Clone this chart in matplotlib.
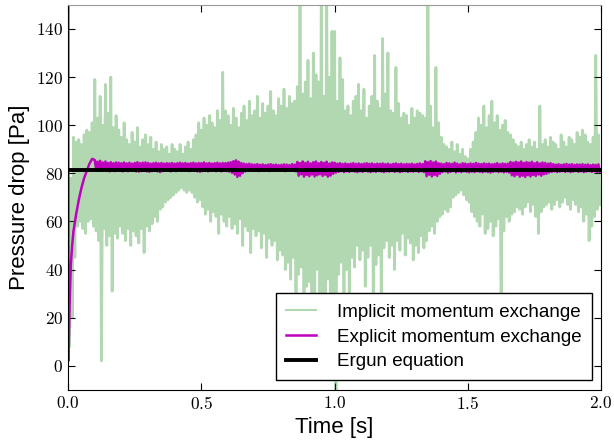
import numpy as np
import matplotlib
matplotlib.use("Agg")
import matplotlib.pyplot as plt
from matplotlib.ticker import FuncFormatter

plt.rcParams['font.family'] = ['Liberation Sans', 'DejaVu Sans']
plt.rcParams['mathtext.fontset'] = 'cm'

# implicit momentum exchange: peak (hi) and dip (lo) per 0.01 s
implicit_hi = [74, 78, 95, 93, 94, 92, 96, 98, 97, 101,
               119, 103, 112, 100, 117, 105, 120, 99, 104, 98,
               95, 101, 94, 92, 97, 93, 99, 91, 94, 96,
               92, 95, 90, 93, 89, 92, 90, 91, 88, 92,
               90, 89, 92, 88, 91, 93, 90, 94, 96, 101,
               98, 103, 100, 104, 101, 99, 106, 102, 122, 106,
               104, 100, 107, 103, 99, 105, 108, 102, 110, 104,
               106, 112, 103, 109, 105, 108, 114, 106, 104, 111,
               108, 115, 107, 112, 109, 110, 116, 160, 113, 118,
               127, 111, 130, 121, 118, 160, 112, 160, 120, 139,
               139, 110, 128, 119, 106, 108, 104, 110, 112, 117,
               106, 115, 103, 108, 112, 129, 110, 107, 136, 113,
               130, 106, 105, 124, 109, 103, 105, 104, 100, 107,
               103, 106, 105, 104, 103, 160, 108, 99, 124, 101,
               95, 92, 91, 90, 93, 89, 92, 88, 90, 87,
               86, 90, 93, 97, 103, 100, 108, 99, 104, 110,
               101, 104, 98, 100, 102, 97, 96, 94, 92, 91,
               93, 90, 92, 94, 91, 93, 90, 108, 92, 94,
               91, 95, 93, 92, 90, 96, 93, 91, 95, 94,
               92, 97, 95, 98, 96, 93, 92, 95, 129, 96]
implicit_lo = [8, 20, 45, 58, 60, 57, 55, 60, 61, 58,
               56, 52, 2, 57, 50, 54, 31, 55, 53, 58,
               55, 52, 57, 50, 56, 54, 51, 57, 47, 58,
               56, 59, 62, 60, 65, 66, 68, 69, 70, 71,
               72, 73, 74, 73, 72, 73, 72, 70, 68, 69,
               66, 63, 65, 60, 64, 62, 55, 63, 60, 58,
               62, 57, 59, 55, 61, 50, 58, 56, 47, 57,
               54, 56, 49, 55, 45, 53, 50, 52, 44, 48,
               46, 40, 43, 36, 45, 30, 38, 41, 18, 33,
               35, 12, 27, 40, 9, 28, 15, 36, 20, 30,
               -12, 38, 43, 30, 40, 27, 45, 41, 50, 44,
               48, 33, 45, 50, 28, 42, 46, 30, 49, 52,
               45, 50, 40, 52, 48, 55, 46, 53, 51, 44,
               50, 47, 54, 49, 52, 56, 58, 55, 60, 62,
               63, 65, 64, 66, 70, 71, 72, 73, 71, 69,
               68, 64, 62, 60, 58, 63, 55, 57, 60, 54,
               58, 61, 20, 56, 62, 60, 63, 64, 66, 65,
               63, 66, 68, 64, 67, 62, 55, 64, 66, 67,
               68, 65, 67, 69, 66, 68, 70, 67, 65, 69,
               67, 64, 66, 60, 63, 52, 58, 62, 65, 67]

# explicit momentum exchange: start-up, then hi/lo per 0.01 s from t = 0.10
explicit_rise_t = [0.0, 0.001, 0.003, 0.006, 0.01, 0.015, 0.02, 0.03, 0.04,
                   0.05, 0.06, 0.07, 0.08, 0.09]
explicit_rise_p = [300, 2, 12, 28, 42, 50, 56, 63, 69, 74, 78, 81, 84, 86]
explicit_hi = [85.5, 84.8, 85.2, 84.5, 84.9, 84.3, 84.6, 84.2, 84.5, 84.4,
               84.2, 84.5, 84.1, 84.4, 84.0, 84.3, 84.6, 84.2, 84.4, 84.5,
               84.3, 84.0, 84.2, 84.4, 84.1, 84.3, 84.0, 84.2, 84.1, 84.3,
               84.0, 84.2, 84.4, 84.1, 84.3, 84.0, 84.2, 84.4, 84.1, 84.3,
               84.2, 84.5, 84.1, 84.3, 84.0, 84.2, 84.4, 84.1, 84.3, 84.2,
               84.4, 84.6, 85.0, 85.4, 84.8, 84.3, 84.0, 83.8, 84.0, 83.7,
               83.6, 83.8, 83.5, 83.7, 83.4, 83.6, 83.8, 83.5, 83.6, 83.4,
               83.5, 83.7, 83.6, 83.4, 83.8, 83.6, 84.7, 84.2, 84.9, 84.3,
               84.8, 84.1, 84.6, 84.9, 84.2, 84.7, 84.3, 84.8, 84.0, 84.5,
               84.4, 84.0, 84.2, 83.9, 84.1, 83.8, 84.0, 84.2, 83.9, 84.1,
               83.8, 84.0, 84.2, 83.9, 84.1, 83.8, 84.0, 83.9, 84.1, 83.8,
               84.0, 83.7, 83.9, 84.1, 83.8, 84.0, 83.7, 83.9, 83.8, 84.0,
               83.7, 83.9, 84.1, 83.8, 85.0, 84.6, 85.1, 84.5, 84.9, 84.2,
               84.0, 83.8, 84.3, 84.1, 83.9, 84.4, 84.0, 83.7, 84.2, 84.0,
               83.8, 84.1, 83.9, 84.3, 84.0, 83.8, 84.1, 83.9, 84.0, 83.7,
               83.9, 84.2, 83.8, 84.1, 83.9, 84.0, 84.7, 84.4, 84.8, 84.5,
               84.9, 84.3, 84.7, 84.4, 84.8, 84.2, 84.6, 84.1, 84.5, 84.3,
               84.0, 84.2, 83.8, 83.6, 83.8, 83.5, 83.7, 83.9, 83.6, 83.8,
               83.5, 83.7, 83.6, 83.8, 83.5, 83.7, 83.4, 83.6, 83.5, 83.7]
explicit_lo = [81.5, 81.2, 81.0, 81.3, 81.0, 80.8, 81.1, 80.9, 81.2, 81.0,
               80.8, 81.1, 80.9, 81.2, 81.0, 80.8, 80.7, 80.9, 81.1, 80.8,
               80.6, 80.9, 81.1, 80.8, 80.5, 80.9, 81.2, 81.0, 80.8, 81.1,
               80.9, 81.2, 81.0, 81.3, 81.1, 80.9, 81.2, 81.0, 80.8, 80.6,
               80.9, 81.1, 80.8, 81.0, 81.2, 80.9, 81.1, 80.8, 81.0, 80.9,
               80.7, 80.2, 79.5, 78.5, 79.0, 80.1, 80.8, 81.0, 81.2, 81.0,
               81.2, 80.9, 81.1, 81.0, 81.3, 80.9, 81.1, 81.2, 81.0, 81.1,
               81.2, 80.9, 81.1, 81.0, 81.2, 80.8, 79.0, 79.6, 78.6, 79.3,
               78.8, 79.5, 78.7, 79.2, 79.6, 78.9, 79.4, 78.6, 79.1, 79.8,
               80.3, 80.6, 80.9, 80.5, 80.8, 80.6, 80.9, 80.7, 80.5, 80.8,
               80.6, 80.9, 80.7, 80.5, 80.8, 80.6, 80.9, 80.7, 80.5, 80.8,
               80.7, 80.9, 80.6, 80.8, 80.5, 80.7, 80.9, 80.6, 80.8, 80.7,
               80.9, 80.6, 80.8, 80.5, 78.8, 79.4, 78.7, 79.3, 78.9, 79.8,
               80.5, 80.8, 80.3, 80.6, 80.9, 80.4, 80.7, 80.5, 80.8, 80.6,
               80.4, 80.7, 80.5, 80.8, 80.6, 80.4, 80.7, 80.5, 80.3, 80.6,
               80.8, 80.5, 80.7, 80.4, 80.6, 80.3, 79.2, 78.8, 79.4, 78.6,
               79.0, 78.5, 79.2, 78.7, 79.3, 78.9, 79.5, 79.0, 79.6, 79.8,
               80.3, 80.6, 80.8, 80.5, 80.7, 80.9, 80.6, 80.8, 80.5, 80.7,
               80.9, 80.6, 80.8, 80.5, 80.7, 80.9, 80.6, 80.8, 80.5, 80.7]

ergun = 81.5
t_end = 2.0

# time grids (sample instants), hi at t, lo half a step later
grid_imp = np.arange(len(implicit_hi)) * 0.01
t_imp = np.column_stack([grid_imp, grid_imp + 0.005]).ravel()
p_imp = np.column_stack([implicit_hi, implicit_lo]).ravel()

grid_exp = 0.10 + np.arange(len(explicit_hi)) * 0.01
t_exp = np.concatenate([explicit_rise_t, np.column_stack([grid_exp, grid_exp + 0.005]).ravel()])
p_exp = np.concatenate([explicit_rise_p, np.column_stack([explicit_hi, explicit_lo]).ravel()])

fig = plt.figure(figsize=(6.14, 4.45), dpi=100)
ax = fig.add_axes([0.111, 0.124, 0.868, 0.865])

ax.plot(t_imp, p_imp, color='g', alpha=0.3, lw=2.0, label='Implicit momentum exchange')
ax.plot(t_exp, p_exp, color='m', lw=1.8, label='Explicit momentum exchange')
ax.plot([0, t_end], [ergun, ergun], color='k', lw=2.8, label='Ergun equation')

ax.set_xlim(0, 2.0)
ax.set_ylim(-10, 150)
ax.set_xticks([0.0, 0.5, 1.0, 1.5, 2.0])
ax.set_yticks(range(0, 141, 20))
ax.xaxis.set_major_formatter(FuncFormatter(lambda v, p: r'$%.1f$' % v))
ax.yaxis.set_major_formatter(FuncFormatter(lambda v, p: r'$%d$' % v))
ax.tick_params(direction='in', top=True, right=True, length=5, labelsize=12.5)
ax.spines['top'].set_color('0.6')

ax.set_xlabel('Time [s]', fontsize=16)
ax.set_ylabel('Pressure drop [Pa]', fontsize=16)

leg = ax.legend(loc='lower right', fontsize=13.5, fancybox=False, framealpha=1,
                edgecolor='k', handlelength=1.6, handletextpad=1.1,
                borderpad=0.55, labelspacing=0.4, borderaxespad=0.5)
leg.get_frame().set_linewidth(1.0)
leg.get_lines()[0].set_linewidth(1.5)

fig.savefig('out.png', dpi=100)
